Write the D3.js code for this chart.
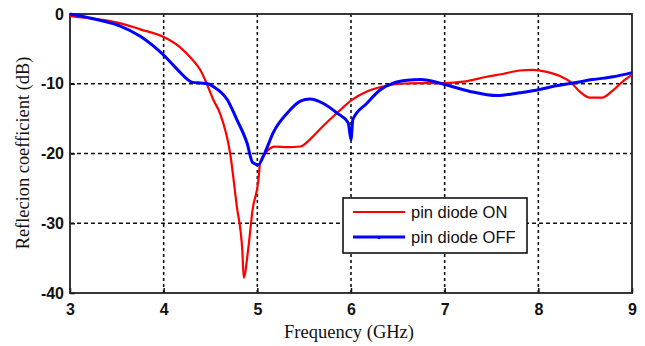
<!DOCTYPE html>
<html>
<head>
<meta charset="utf-8">
<script src="https://cdn.jsdelivr.net/npm/d3@7"></script>
<style>
  html, body { margin: 0; padding: 0; background: #fff; }
  svg { display: block; }
</style>
</head>
<body>
<svg id="chart" width="645" height="346"></svg>
<script>
// Frequency sweep (GHz) and reflection coefficient (dB) for both diode states
const freqOn = [3.0, 3.32, 3.53, 3.75, 4.0, 4.17, 4.31, 4.39, 4.46, 4.53, 4.60, 4.71, 4.78, 4.84, 4.855, 4.90, 4.95, 5.01, 5.03, 5.10, 5.19, 5.32, 5.46, 5.56, 5.70, 5.85, 6.01, 6.17, 6.34, 6.52, 6.74, 7.0, 7.2, 7.45, 7.62, 7.80, 7.94, 8.09, 8.23, 8.34, 8.44, 8.55, 8.68, 8.80, 8.90, 9.0];
const s11On = [-0.3, -0.8, -1.3, -2.2, -3.3, -4.7, -6.6, -8.0, -10.0, -12.3, -14.2, -20.0, -27.5, -34.0, -37.8, -34.0, -28.0, -24.0, -21.3, -19.7, -19.0, -19.1, -19.0, -18.0, -16.1, -14.2, -12.3, -11.1, -10.4, -10.0, -9.9, -9.9, -9.7, -9.0, -8.6, -8.1, -8.0, -8.3, -8.9, -9.7, -11.1, -12.0, -12.0, -10.9, -9.7, -8.7];

const freqOff = [3.0, 3.32, 3.53, 3.75, 4.0, 4.15, 4.31, 4.39, 4.47, 4.53, 4.68, 4.78, 4.89, 4.95, 5.01, 5.08, 5.17, 5.32, 5.46, 5.56, 5.70, 5.85, 5.97, 6.0, 6.02, 6.17, 6.31, 6.45, 6.60, 6.74, 7.0, 7.27, 7.56, 7.80, 7.99, 8.15, 8.37, 8.58, 8.80, 9.0];
const s11Off = [0.0, -0.9, -1.7, -3.2, -5.9, -8.0, -9.8, -9.9, -10.0, -10.4, -12.3, -15.1, -18.5, -21.3, -21.6, -19.9, -17.0, -14.2, -12.5, -12.2, -12.8, -14.2, -15.6, -18.0, -15.1, -12.8, -10.9, -9.9, -9.5, -9.4, -10.1, -11.1, -11.7, -11.3, -10.9, -10.4, -9.9, -9.4, -9.0, -8.4];

const xTicks = [3, 4, 5, 6, 7, 8, 9];
const yTicks = [0, -10, -20, -30, -40];
const seriesNames = ["pin diode ON", "pin diode OFF"];
const seriesColors = ["#ff0000", "#0000ff"];

const svg = d3.select("#chart");
const plot = { left: 70, right: 632, top: 14, bottom: 293 };

const x = d3.scaleLinear().domain([3, 9]).range([plot.left, plot.right]);
const y = d3.scaleLinear().domain([-40, 0]).range([plot.bottom, plot.top]);

// dotted grid
const grid = svg.append("g");
grid.selectAll("line.gx").data(xTicks.slice(1, -1)).enter().append("line")
  .attr("x1", d => x(d)).attr("x2", d => x(d))
  .attr("y1", plot.top).attr("y2", plot.bottom)
  .attr("stroke", "#111").attr("stroke-width", 1.6).attr("stroke-dasharray", "3,3");
grid.selectAll("line.gy").data(yTicks.slice(1, -1)).enter().append("line")
  .attr("x1", plot.left).attr("x2", plot.right)
  .attr("y1", d => y(d)).attr("y2", d => y(d))
  .attr("stroke", "#111").attr("stroke-width", 1.6).attr("stroke-dasharray", "4,3");

// axes with inward ticks
const xAxis = d3.axisBottom(x).tickValues(xTicks).tickSize(-5).tickPadding(10).tickFormat(d3.format("d"));
const yAxis = d3.axisLeft(y).tickValues(yTicks).tickSize(-5).tickPadding(6).tickFormat(d => d === 0 ? "0" : String(d));

const gx = svg.append("g").attr("transform", `translate(0,${plot.bottom})`).call(xAxis);
const gy = svg.append("g").attr("transform", `translate(${plot.left},0)`).call(yAxis);
[gx, gy].forEach(g => {
  g.select(".domain").remove();
  g.selectAll(".tick line").attr("stroke", "#111").attr("stroke-width", 1.5);
  g.selectAll(".tick text")
    .attr("fill", "#111")
    .style("font-family", "'Liberation Sans', Arial, sans-serif")
    .style("font-size", "16px")
    .style("font-weight", "bold");
});
gx.selectAll(".tick text").attr("dy", "0.75em");

// frame
svg.append("rect")
  .attr("x", plot.left).attr("y", plot.top)
  .attr("width", plot.right - plot.left).attr("height", plot.bottom - plot.top)
  .attr("fill", "none").attr("stroke", "#222").attr("stroke-width", 1.8);

// curves
const line = d3.line().curve(d3.curveMonotoneX);
svg.append("path")
  .datum(freqOn.map((f, i) => [x(f), y(s11On[i])]))
  .attr("d", line)
  .attr("fill", "none").attr("stroke", seriesColors[0]).attr("stroke-width", 2.2)
  .attr("stroke-linejoin", "round");
svg.append("path")
  .datum(freqOff.map((f, i) => [x(f), y(s11Off[i])]))
  .attr("d", line)
  .attr("fill", "none").attr("stroke", seriesColors[1]).attr("stroke-width", 3)
  .attr("stroke-linejoin", "round");

// legend
const lg = svg.append("g");
lg.append("rect")
  .attr("x", 343).attr("y", 198).attr("width", 184).attr("height", 55)
  .attr("fill", "#fff").attr("stroke", "#111").attr("stroke-width", 1.6);
seriesNames.forEach((name, i) => {
  const yy = 212 + i * 25;
  lg.append("line")
    .attr("x1", 353).attr("x2", 405).attr("y1", yy).attr("y2", yy)
    .attr("stroke", seriesColors[i]).attr("stroke-width", i === 0 ? 2.2 : 3);
  if (i === 1) {
    lg.append("circle").attr("cx", 379).attr("cy", yy + 0.5).attr("r", 1.8).attr("fill", seriesColors[i]);
  }
  lg.append("text")
    .attr("x", 411).attr("y", yy + 6)
    .attr("fill", "#111")
    .style("font-family", "'Liberation Sans', Arial, sans-serif")
    .style("font-size", "16.5px")
    .text(name);
});

// axis titles
svg.append("text")
  .attr("x", 349).attr("y", 338)
  .attr("text-anchor", "middle")
  .attr("fill", "#111")
  .style("font-family", "'Liberation Serif', 'Times New Roman', serif")
  .style("font-size", "18.5px")
  .text("Frequency (GHz)");
svg.append("text")
  .attr("transform", "translate(29,153) rotate(-90)")
  .attr("text-anchor", "middle")
  .attr("fill", "#111")
  .style("font-family", "'Liberation Serif', 'Times New Roman', serif")
  .style("font-size", "18.4px")
  .text("Reflecion coefficient (dB)");
</script>
</body>
</html>
